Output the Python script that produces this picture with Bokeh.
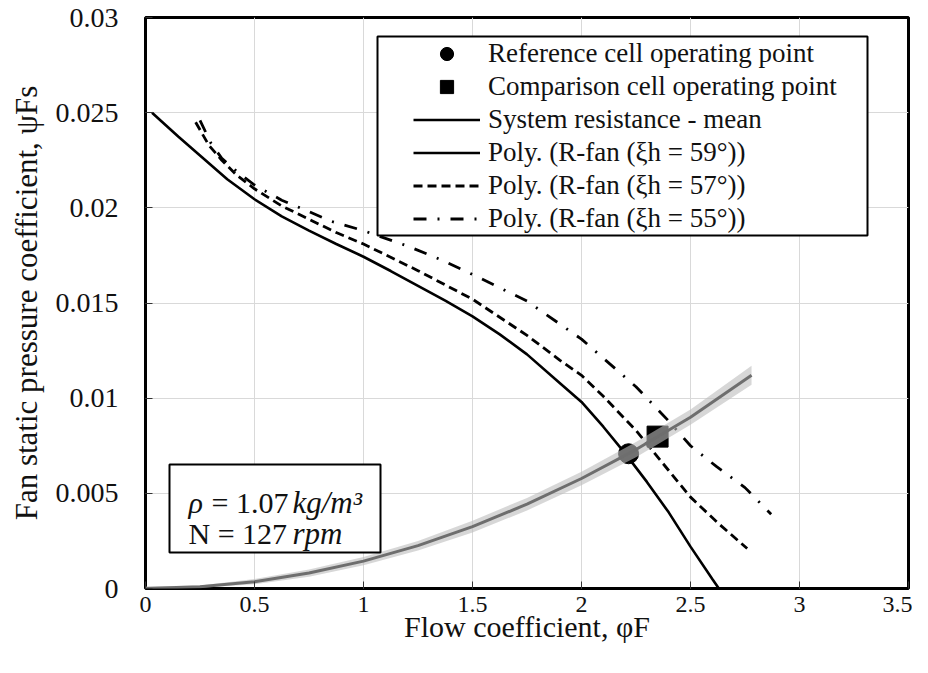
from bokeh.plotting import figure
from bokeh.models import (Label, BoxAnnotation, Legend, LegendItem, Range1d, FixedTicker)
from bokeh.embed import file_html
from bokeh.resources import INLINE

# ---------------- data ----------------
# Fan curves (polynomial fits) for three blade angles
phi_59 = [0.03, 0.15, 0.25, 0.375, 0.5, 0.625, 0.75, 0.875, 1.0, 1.125, 1.25, 1.375, 1.5, 1.625,
          1.75, 1.9, 2.0, 2.1, 2.2, 2.3, 2.4, 2.5, 2.6, 2.63]
psi_59 = [0.0250, 0.02375, 0.02275, 0.02150, 0.02045, 0.01955, 0.01880, 0.01810, 0.01743, 0.01668,
          0.01590, 0.01512, 0.01430, 0.01335, 0.01230, 0.01080, 0.00980, 0.00850, 0.00710, 0.00560,
          0.00400, 0.00220, 0.00050, 0.0]

phi_57 = [0.23, 0.29, 0.35, 0.42, 0.5, 0.625, 0.75, 0.875, 1.0, 1.25, 1.5, 1.75, 1.9, 2.0, 2.1,
          2.25, 2.4, 2.5, 2.63, 2.76]
psi_57 = [0.0245, 0.0233, 0.0225, 0.0217, 0.0210, 0.0201, 0.0194, 0.0187, 0.0181, 0.0167, 0.0152,
          0.0133, 0.0120, 0.0112, 0.0101, 0.0083, 0.0062, 0.0048, 0.0034, 0.0021]

phi_55 = [0.25, 0.3, 0.35, 0.42, 0.5, 0.625, 0.75, 0.85, 1.0, 1.2, 1.35, 1.5, 1.75, 1.9, 2.0, 2.1,
          2.25, 2.4, 2.5, 2.62, 2.75, 2.87]
psi_55 = [0.0246, 0.0234, 0.0226, 0.0219, 0.0212, 0.0204, 0.0198, 0.0193, 0.0188, 0.0180, 0.0173,
          0.0165, 0.0151, 0.0139, 0.0131, 0.0121, 0.0106, 0.0088, 0.0075, 0.0064, 0.0053, 0.0039]

# System resistance (mean and band)
sys_phi = [0.0, 0.25, 0.5, 0.75, 1.0, 1.25, 1.5, 1.75, 2.0, 2.25, 2.5, 2.78]
sys_psi = [0.0, 0.00009, 0.00036, 0.00081, 0.00144, 0.00225, 0.00325, 0.00443, 0.00578, 0.0073, 0.0090, 0.0112]
sys_lo = [0.0, 0.00004, 0.00022, 0.00062, 0.00122, 0.00200, 0.00294, 0.00410, 0.00542, 0.0069, 0.0086, 0.0107]
sys_hi = [0.0001, 0.00016, 0.00050, 0.00100, 0.00166, 0.00250, 0.00356, 0.00476, 0.00614, 0.0077, 0.0094, 0.0117]

# Operating points
ref_phi, ref_psi = [2.216], [0.00708]
cmp_phi, cmp_psi = [2.349], [0.00798]

x_ticks = [0, 0.5, 1, 1.5, 2, 2.5, 3, 3.5]
x_tick_labels = ["0", "0.5", "1", "1.5", "2", "2.5", "3", "3.5"]
y_ticks = [0, 0.005, 0.01, 0.015, 0.02, 0.025, 0.03]
y_tick_labels = ["0", "0.005", "0.01", "0.015", "0.02", "0.025", "0.03"]

legend_labels = ["Reference cell operating point", "Comparison cell operating point",
                 "System resistance - mean", "Poly. (R-fan (ξh = 59°))",
                 "Poly. (R-fan (ξh = 57°))", "Poly. (R-fan (ξh = 55°))"]

x_title = "Flow coefficient, φF"
y_title = "Fan static pressure coefficient, ψFs"

# ---------------- figure ----------------
SERIF = "Liberation Serif"
TXT = "#111111"
FL, FT, FR, FB = 145, 17, 908, 588   # frame edges in canvas pixels

p = figure(width=912, height=657, x_range=Range1d(0, 3.5), y_range=Range1d(0, 0.03),
           output_backend="svg", toolbar_location=None,
           min_border_left=FL, min_border_right=912 - FR, min_border_top=FT,
           min_border_bottom=657 - FB)
p.background_fill_color = "white"
p.border_fill_color = "white"
p.outline_line_color = "black"
p.outline_line_width = 3

p.xaxis.ticker = FixedTicker(ticks=x_ticks)
p.yaxis.ticker = FixedTicker(ticks=y_ticks)
p.xaxis.major_label_overrides = {t: s for t, s in zip(x_ticks, x_tick_labels)}
p.yaxis.major_label_overrides = {t: s for t, s in zip(y_ticks, y_tick_labels)}
for ax in (p.xaxis, p.yaxis):
    ax.axis_line_color = None
    ax.major_tick_in = 7
    ax.major_tick_out = 0
    ax.major_tick_line_color = "#333333"
    ax.minor_tick_line_color = None
    ax.major_label_text_color = TXT
    ax.major_label_text_font = SERIF
    ax.axis_label_text_font = SERIF
    ax.axis_label_text_font_style = "normal"
    ax.axis_label_text_color = TXT
p.xaxis.major_label_text_font_size = "24px"
p.xaxis.major_label_standoff = 8
p.yaxis.major_label_text_font_size = "28px"
p.yaxis.major_label_standoff = 27

p.xaxis.axis_label = x_title
p.xaxis.axis_label_text_font_size = "30px"
p.xaxis.axis_label_standoff = -5
p.yaxis.axis_label = y_title
p.yaxis.axis_label_text_font_size = "31px"
p.yaxis.axis_label_standoff = 9

p.grid.grid_line_color = "#d9d9d9"
p.grid.grid_line_width = 1

# fan curves
r59 = p.line(phi_59, psi_59, line_color="black", line_width=2.6)
r57 = p.line(phi_57, psi_57, line_color="black", line_width=2.8, line_dash="9 5")
r55 = p.line(phi_55, psi_55, line_color="black", line_width=2.8, line_dash="13 11 2 11")

# operating points
rc = p.scatter(ref_phi, ref_psi, marker="circle", size=20, fill_color="black", line_color="black")
rs = p.scatter(cmp_phi, cmp_psi, marker="square", size=21, fill_color="black", line_color="black")

# system resistance band and mean (drawn above the markers)
p.varea(x=sys_phi, y1=sys_lo, y2=sys_hi, fill_color="#bdbdbd", fill_alpha=0.6)
p.line(sys_phi, sys_psi, line_color="#6e6e6e", line_width=3)
r_sys_leg = p.line(sys_phi, sys_psi, line_color="black", line_width=2.6, visible=False)

# ---------------- legend ----------------
def sbox(l, r, t, b):
    return BoxAnnotation(left=l - FL, right=r - FL, top=FB - t, bottom=FB - b,
                         left_units="screen", right_units="screen",
                         top_units="screen", bottom_units="screen",
                         fill_color="white", fill_alpha=1.0,
                         line_color="black", line_alpha=1.0, line_width=2)


p.add_layout(sbox(377, 867, 36, 235))

items = [LegendItem(label=legend_labels[0], renderers=[rc]),
         LegendItem(label=legend_labels[1], renderers=[rs]),
         LegendItem(label=legend_labels[2], renderers=[r_sys_leg]),
         LegendItem(label=legend_labels[3], renderers=[r59]),
         LegendItem(label=legend_labels[4], renderers=[r57]),
         LegendItem(label=legend_labels[5], renderers=[r55])]
leg = Legend(items=items, location=(413 - FL, FB - 235), orientation="vertical",
             padding=0, margin=0, spacing=0, glyph_width=67, glyph_height=33,
             label_height=33, label_standoff=8,
             label_text_font=SERIF, label_text_font_size="27px", label_text_color=TXT,
             background_fill_alpha=0, border_line_color=None)
p.add_layout(leg, "center")

# ---------------- text box ----------------
p.add_layout(sbox(169, 380, 464, 552))


def lab(text, px, py, size, style="normal"):
    p.add_layout(Label(x=px - FL, y=FB - py, x_units="screen", y_units="screen", text=text,
                       text_font=SERIF, text_font_size=size, text_font_style=style,
                       text_color=TXT, text_align="left", text_baseline="alphabetic"))


lab("ρ", 188, 502, "30px", style="italic")
lab("= 1.07", 211, 502, "30px")
lab("kg/m³", 292, 502, "31px", style="italic")
lab("N = 127", 188, 533, "30px")
lab("rpm", 292, 533, "31px", style="italic")

open("out.html", "w").write(file_html(p, INLINE))
